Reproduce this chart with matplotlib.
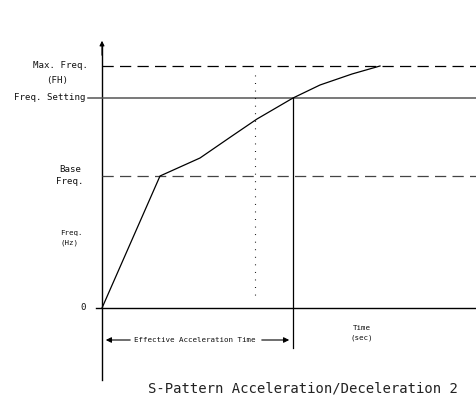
import matplotlib
matplotlib.use("Agg")
import matplotlib.pyplot as plt

# Frequency levels (vertical units above zero line)
freq_levels = {"zero": 0, "base": 132, "setting": 210, "max": 242}
# Time marks (horizontal units right of the origin)
t_setting = 191      # curve reaches the frequency setting
t_dotted = 153       # dotted reference line
t_end = 374          # right edge

# Acceleration curve: linear to base freq, then bending toward max freq
curve_t = [0, 58, 98, 130, 155, 191, 218, 250, 278]
curve_f = [0, 132, 150, 172, 189, 210, 223, 234, 242]

fig = plt.figure(figsize=(4.76, 4.12), dpi=100)
ax = fig.add_axes([0, 0, 1, 1])
ax.set_xlim(-102, t_end)
ax.set_ylim(-104, 308)
ax.axis("off")

lc = "black"
mono = "DejaVu Sans Mono"
fs = 6.6       # side labels
fs_small = 5.4 # small annotations
tc = "#111111"

# Vertical axis with arrow
ax.plot([0, 0], [-72, 262], color=lc, lw=1.0)
ax.annotate("", xy=(0, 270), xytext=(0, 250),
            arrowprops=dict(arrowstyle="-|>", color=lc, lw=0.8,
                            mutation_scale=7))
# Zero line
ax.plot([-6, t_end], [0, 0], color=lc, lw=1.0)
# Max frequency dashed
ax.plot([0, t_end], [freq_levels["max"]] * 2, color=lc, lw=0.9,
        dashes=(9, 5))
# Frequency setting line
ax.plot([-14, t_end], [freq_levels["setting"]] * 2, color="#555555", lw=1.1)
# Base frequency dashed
ax.plot([0, t_end], [freq_levels["base"]] * 2, color="#444444", lw=0.9,
        dashes=(9, 5))

# Curve
ax.plot(curve_t, curve_f, color=lc, lw=0.9)

# Vertical line at frequency setting time
ax.plot([t_setting, t_setting], [freq_levels["setting"], -40], color=lc, lw=0.9)
# Dotted reference line
ax.plot([t_dotted, t_dotted], [233, 10], color=lc, lw=0.8,
        dashes=(0.8, 6))

# Effective acceleration time arrows
ax.annotate("", xy=(1, -32), xytext=(31, -32),
            arrowprops=dict(arrowstyle="-|>", color=lc, lw=0.8,
                            mutation_scale=8))
ax.annotate("", xy=(t_setting - 1, -32), xytext=(157, -32),
            arrowprops=dict(arrowstyle="-|>", color=lc, lw=0.8,
                            mutation_scale=8))
ax.text(93, -32, "Effective Acceleration Time", fontsize=fs_small,
        family=mono, ha="center", va="center", color=tc)

# Left labels
ax.text(-14, 242, "Max. Freq.", fontsize=fs, family=mono, ha="right",
        va="center", color=tc)
ax.text(-45, 227, "(FH)", fontsize=fs, family=mono, ha="center",
        va="center", color=tc)
ax.text(-16, freq_levels["setting"], "Freq. Setting", fontsize=fs,
        family=mono, ha="right", va="center", color=tc)
ax.text(-32, 139, "Base", fontsize=fs, family=mono, ha="center",
        va="center", color=tc)
ax.text(-32, 126, "Freq.", fontsize=fs, family=mono, ha="center",
        va="center", color=tc)
ax.text(-42, 75, "Freq.", fontsize=fs_small, family=mono, ha="left",
        va="center", color=tc)
ax.text(-42, 65, "(Hz)", fontsize=fs_small, family=mono, ha="left",
        va="center", color=tc)
ax.text(-19, 0, "0", fontsize=fs, family=mono, ha="center", va="center",
        color=tc)

# Time label
ax.text(251, -20, "Time", fontsize=fs_small, family=mono, ha="left",
        va="center", color=tc)
ax.text(248, -30, "(sec)", fontsize=fs_small, family=mono, ha="left",
        va="center", color=tc)

# Title
ax.text(201, -80, "S-Pattern Acceleration/Deceleration 2", fontsize=10,
        family=mono, ha="center", va="center", color="#222222")

fig.savefig("out.png", dpi=100)
